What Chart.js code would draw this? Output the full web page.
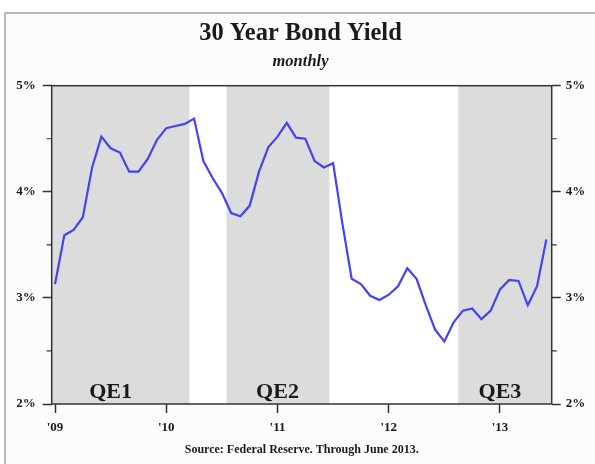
<!DOCTYPE html>
<html>
<head>
<meta charset="utf-8">
<script src="https://cdn.jsdelivr.net/npm/chart.js@4/dist/chart.umd.min.js"></script>
<style>
  body { margin: 0; background: #fff; }
  canvas { display: block; }
</style>
</head>
<body>
<canvas id="bondChart" width="595" height="464"></canvas>
<script>
// 30 year treasury yield, monthly, Jan 2009 - Jun 2013 (index 0 = Jan '09)
const yields = [
  3.13, 3.59, 3.64, 3.76, 4.23, 4.52, 4.41, 4.37, 4.19, 4.19, 4.31, 4.49,
  4.60, 4.62, 4.64, 4.69, 4.29, 4.13, 3.99, 3.80, 3.77, 3.87, 4.19, 4.42,
  4.52, 4.65, 4.51, 4.50, 4.29, 4.23, 4.27, 3.70, 3.18, 3.13, 3.02, 2.98,
  3.03, 3.11, 3.28, 3.18, 2.93, 2.70, 2.59, 2.77, 2.88, 2.90, 2.80, 2.88,
  3.08, 3.17, 3.16, 2.93, 3.11, 3.55
]

// year ticks (month index) and their labels
const yearTicks = [0, 12, 24, 36, 48]
const yearLabels = ["'09", "'10", "'11", "'12", "'13"]

// QE periods, in month index
const qeNames = ['QE1', 'QE2', 'QE3']
const qeStart = [-1, 18.5, 43.5]
const qeEnd = [14.5, 29.6, 60]
const qeLabelAt = [6, 24, 48]

const serif = "'Liberation Serif', 'Times New Roman', serif"
const ink = '#1a1a1a'

const points = yields.map((v, i) => ({x: i, y: v}))

// Frame + background
const backdrop = {
  id: 'backdrop',
  beforeDraw(chart) {
    const ctx = chart.ctx
    ctx.save()
    ctx.fillStyle = '#fff'
    ctx.fillRect(0, 0, chart.width, chart.height)
    ctx.fillStyle = '#fcfcfc'
    ctx.fillRect(5, 13, chart.width, chart.height)
    ctx.strokeStyle = '#b8b8b8'
    ctx.lineWidth = 2
    ctx.strokeRect(5, 13, chart.width + 10, chart.height + 10)
    ctx.restore()
  }
}

// QE shaded bands and labels
const qeBands = {
  id: 'qeBands',
  beforeDatasetsDraw(chart) {
    const {ctx, chartArea: a, scales: {x}} = chart
    ctx.save()
    ctx.fillStyle = '#fff'
    ctx.fillRect(a.left, a.top, a.right - a.left, a.bottom - a.top)
    ctx.fillStyle = '#dcdcdc'
    qeNames.forEach((name, i) => {
      const x1 = Math.max(a.left, x.getPixelForValue(qeStart[i]))
      const x2 = Math.min(a.right, x.getPixelForValue(qeEnd[i]))
      ctx.fillRect(x1, a.top, x2 - x1, a.bottom - a.top)
    })
    ctx.fillStyle = ink
    ctx.font = 'bold 22px ' + serif
    ctx.textAlign = 'center'
    ctx.textBaseline = 'alphabetic'
    qeNames.forEach((name, i) => {
      ctx.fillText(name, x.getPixelForValue(qeLabelAt[i]), a.bottom - 6)
    })
    ctx.restore()
  },
  afterDraw(chart) {
    const {ctx, chartArea: a, scales} = chart
    ctx.save()
    ctx.strokeStyle = '#333'
    ctx.lineWidth = 1.5
    ctx.strokeRect(a.left, a.top, a.right - a.left, a.bottom - a.top)
    // short half-percent ticks
    ctx.lineWidth = 1.2
    ;[2.5, 3.5, 4.5].forEach(v => {
      const py = scales.y.getPixelForValue(v)
      ctx.beginPath()
      ctx.moveTo(a.left - 5, py); ctx.lineTo(a.left, py)
      ctx.moveTo(a.right, py); ctx.lineTo(a.right + 5, py)
      ctx.stroke()
    })
    ctx.restore()
  }
}

const yAxis = (side, pad, width) => ({
  type: 'linear',
  position: side,
  min: 2,
  max: 5,
  afterFit(scale) { scale.width = width },
  border: {display: false},
  grid: {
    drawOnChartArea: false,
    tickLength: 9,
    tickWidth: 1.5,
    tickColor: c => Number.isInteger(c.tick.value) ? '#333' : 'rgba(0,0,0,0)'
  },
  ticks: {
    stepSize: 0.5,
    padding: pad,
    color: ink,
    font: {family: serif, size: 13, weight: 'bold'},
    callback: v => Number.isInteger(v) ? v + '%' : ''
  }
})

new Chart(document.getElementById('bondChart'), {
  type: 'line',
  data: {
    datasets: [{
      label: '30 Year Bond Yield',
      data: points,
      borderColor: '#4242f8',
      borderWidth: 2.2,
      pointRadius: 0,
      tension: 0,
      fill: false
    }]
  },
  options: {
    responsive: false,
    animation: false,
    layout: {padding: {left: 6, right: 0, top: 0, bottom: 6.5}},
    plugins: {
      legend: {display: false},
      tooltip: {enabled: false},
      title: {
        display: true,
        text: '30 Year Bond Yield',
        color: ink,
        font: {family: serif, size: 24.5, weight: 'bold'},
        padding: {top: 19, bottom: 3}
      },
      subtitle: {
        display: true,
        text: 'monthly',
        color: ink,
        font: {family: serif, size: 16.5, weight: 'bold', style: 'italic'},
        padding: {top: 0, bottom: 14.5}
      }
    },
    scales: {
      x: {
        type: 'linear',
        min: -0.36,
        max: 53.58,
        border: {display: false},
        afterBuildTicks(scale) { scale.ticks = yearTicks.map(v => ({value: v})) },
        grid: {drawOnChartArea: false, tickLength: 9, tickWidth: 1.5, tickColor: '#333'},
        ticks: {
          padding: 7,
          autoSkip: false,
          maxRotation: 0,
          color: ink,
          font: {family: serif, size: 13, weight: 'bold'},
          callback: (v, i) => yearLabels[i]
        },
        title: {
          display: true,
          text: 'Source: Federal Reserve. Through June 2013.',
          color: ink,
          font: {family: serif, size: 12, weight: 'bold'},
          padding: {top: 0.5, bottom: 0}
        }
      },
      y: yAxis('left', 7, 45.7),
      y2: yAxis('right', 5, 43.3)
    }
  },
  plugins: [backdrop, qeBands]
})
</script>
</body>
</html>
